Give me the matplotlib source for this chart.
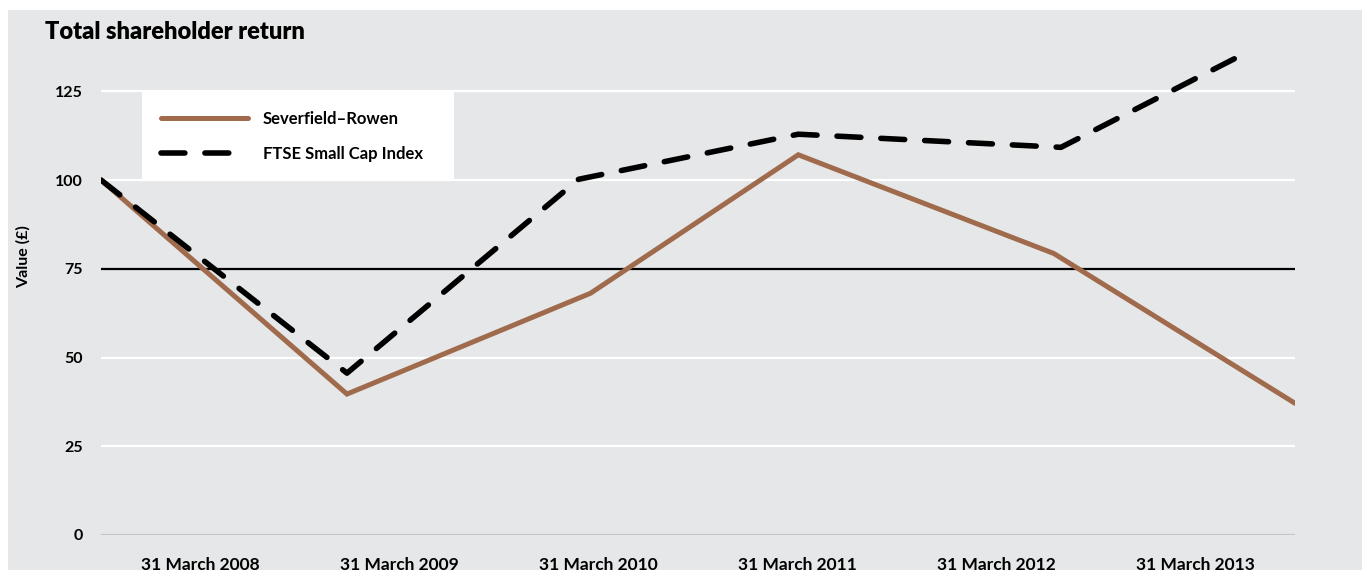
import matplotlib.pyplot as plt
from matplotlib.patches import Rectangle

plt.rcParams['font.family'] = ['Lato', 'DejaVu Sans']

# x positions of the points (chart runs 0..5)
sev_x = [0, 1.03, 2.05, 2.92, 3.99, 5.0]
sev_y = [100, 39.7, 68.1, 107.1, 79.3, 37.1]
ftse_x = [0, 1.03, 2.0, 2.92, 4.02, 4.80]
ftse_y = [100, 45.6, 100.2, 112.9, 109.2, 136.0]

dates = ['31 March 2008', '31 March 2009', '31 March 2010',
         '31 March 2011', '31 March 2012', '31 March 2013']
date_pos = [0.417, 1.25, 2.083, 2.917, 3.75, 4.583]
yticks = [0, 25, 50, 75, 100, 125]

bg = '#e6e7e8'
brown = '#a06b4c'

fig = plt.figure(figsize=(13.62, 5.70), dpi=100)
fig.patch.set_facecolor('white')
fig.add_artist(Rectangle((8/1362, 0), 1, 1 - 10/570, transform=fig.transFigure,
                         facecolor=bg, edgecolor='none', zorder=-10))

ax = fig.add_axes([101/1362, 35/570, 1194/1362, 497/570])
ax.set_facecolor('none')
ax.set_xlim(0, 5)
ax.set_ylim(0, 140)
for s in ax.spines.values():
    s.set_visible(False)

for v in [25, 50, 100, 125]:
    ax.axhline(v, color='white', lw=1.6, zorder=1)
ax.axhline(0, color='#c4c4c4', lw=1.6, zorder=1)
ax.axhline(75, color='black', lw=1.6, zorder=2)

ax.plot(sev_x, sev_y, color=brown, lw=3.6, solid_capstyle='round',
        solid_joinstyle='miter', zorder=3, label='Severfield\u2013Rowen')
ax.plot(ftse_x, ftse_y, color='black', lw=4, dashes=(4.3, 3.6),
        dash_capstyle='round', zorder=4, label='FTSE Small Cap Index')

ax.set_yticks(yticks)
ax.set_yticklabels([str(v) for v in yticks], fontsize=11.5, fontweight='bold')
ax.set_xticks(date_pos)
ax.set_xticklabels(dates, fontsize=12.5, fontweight='bold')
ax.tick_params(axis='y', length=0, pad=13)
ax.tick_params(axis='x', length=0, pad=16)

ax.set_ylabel('Value (\u00a3)', fontsize=11.5, fontweight='bold')
ax.yaxis.set_label_coords(-70/1194, (535 - 257) / 497)

# legend box
ax.add_patch(Rectangle((41/1194, 100/140), 312/1194, 25/140, transform=ax.transAxes,
                       facecolor='white', edgecolor='none', zorder=2.5))
leg = ax.legend(loc='upper left', bbox_to_anchor=(60/1194, 0.853), frameon=False,
                fontsize=12, handlelength=5.2, handletextpad=0.9, labelspacing=1.15,
                borderpad=0, borderaxespad=0)
for t in leg.get_texts():
    t.set_fontweight('bold')
leg.set_zorder(5)

fig.text(45/1362, 1 - 32/570, 'Total shareholder return', fontsize=17,
         fontweight='heavy', va='center', ha='left')

fig.savefig('out.png', dpi=100, facecolor=fig.get_facecolor())
